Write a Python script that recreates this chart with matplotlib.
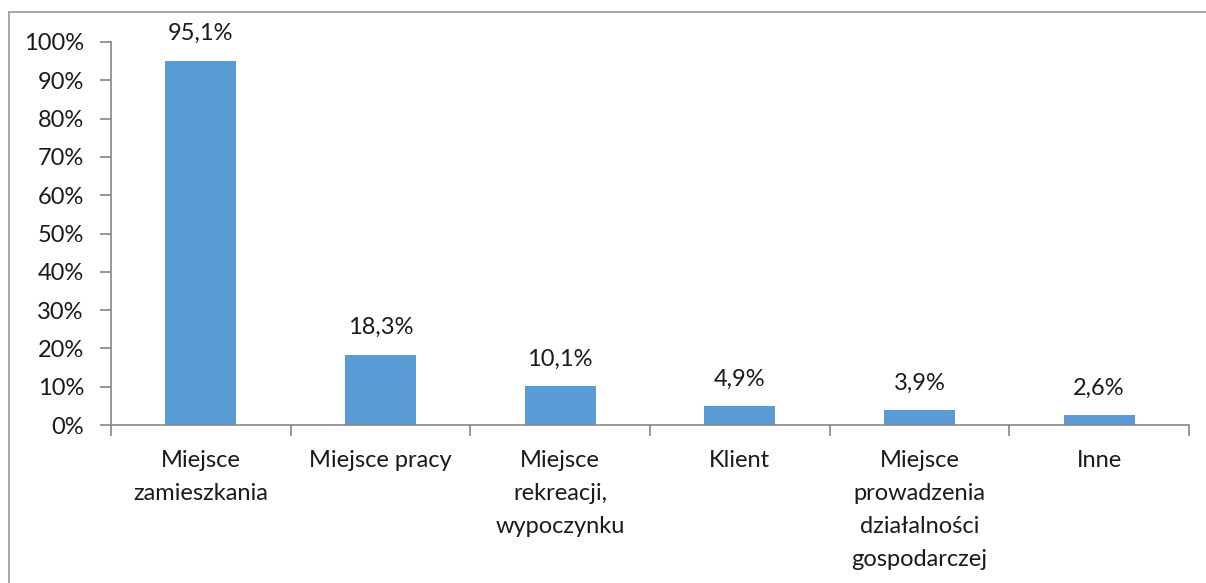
import matplotlib
matplotlib.use("Agg")
import matplotlib.pyplot as plt
from matplotlib.lines import Line2D
from matplotlib.ticker import FixedLocator, MultipleLocator, FuncFormatter

categories = ["Miejsce\nzamieszkania", "Miejsce pracy", "Miejsce\nrekreacji,\nwypoczynku",
              "Klient", "Miejsce\nprowadzenia\ndziałalności\ngospodarczej", "Inne"]
values = [95.1, 18.3, 10.1, 4.9, 3.9, 2.6]
value_labels = ["95,1%", "18,3%", "10,1%", "4,9%", "3,9%", "2,6%"]

plt.rcParams['font.family'] = ['Lato', 'DejaVu Sans']

W, H = 1206, 583
FS = 17
fig = plt.figure(figsize=(W / 100, H / 100), dpi=100)
ax = fig.add_axes([111 / W, 1 - 425 / H, (1189 - 111) / W, (425 - 42) / H])

x = list(range(len(categories)))
bars = ax.bar(x, values, width=0.395, color="#5B9BD5", zorder=2)
ax.set_xlim(-0.5, len(categories) - 0.5)
ax.set_ylim(0, 100)

for b, lab in zip(bars, value_labels):
    ax.annotate(lab, (b.get_x() + b.get_width() / 2, b.get_height()),
                xytext=(0, 12), textcoords="offset points", ha="center", va="bottom",
                fontsize=FS, color="#1a1a1a")

ax.yaxis.set_major_locator(MultipleLocator(10))
ax.yaxis.set_major_formatter(FuncFormatter(lambda v, p: f"{int(round(v))}%"))
ax.set_xticks(x)
ax.set_xticklabels(categories, fontsize=FS, color="#1a1a1a", linespacing=1.7)
ax.xaxis.set_minor_locator(FixedLocator([i - 0.5 for i in range(len(categories) + 1)]))
ax.tick_params(axis="x", which="major", length=0, pad=18)
ax.tick_params(axis="x", which="minor", length=8, width=1.2, color="#868686")
ax.tick_params(axis="y", length=8, width=1.2, color="#868686", labelsize=FS,
               labelcolor="#1a1a1a", pad=11.5)

for s in ["top", "right"]:
    ax.spines[s].set_visible(False)
for s in ["left", "bottom"]:
    ax.spines[s].set_color("#868686")
    ax.spines[s].set_linewidth(1.2)

fig.add_artist(Line2D([9 / W, 9 / W], [0, 1 - 12 / H], transform=fig.transFigure,
                      color="#A6A6A6", linewidth=1.4))
fig.add_artist(Line2D([9 / W, 1], [1 - 12 / H, 1 - 12 / H], transform=fig.transFigure,
                      color="#A6A6A6", linewidth=1.4))

fig.savefig("out.png", dpi=100, facecolor="white")
